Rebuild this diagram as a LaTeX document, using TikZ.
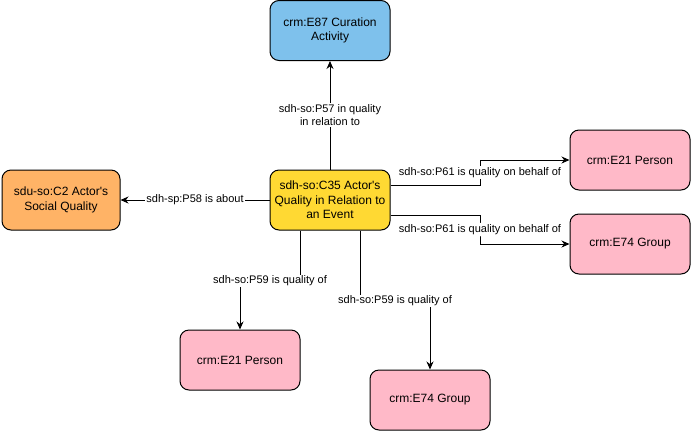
\documentclass[tikz,border=0pt]{standalone}
\usepackage{fontspec}
\setmainfont{Liberation Sans}
\usetikzlibrary{arrows.meta,calc}
\definecolor{cblue}{RGB}{126,193,236}
\definecolor{corange}{RGB}{255,179,102}
\definecolor{cyellow}{RGB}{255,217,51}
\definecolor{cpink}{RGB}{255,185,200}
\begin{document}
\begin{tikzpicture}[x=1pt,y=-1pt,
 box/.style={draw=black, rounded corners=9pt, minimum width=120pt, minimum height=60pt, align=center, font=\fontsize{12}{14.5}\selectfont, inner sep=2pt, line width=1pt},
 lbl/.style={fill=white, font=\fontsize{11}{13}\selectfont, align=center, inner sep=1pt},
 arr/.style={line width=1pt, -{Stealth[length=8pt,width=7pt]}}]
\useasboundingbox (0,0) rectangle (691,432);
\node[box, fill=cblue] (e87) at (330,30.5) {crm:E87 Curation\\Activity};
\node[box, fill=corange, minimum width=118pt] (soc) at (61,200) {sdu-so:C2 Actor\textquotesingle s\\Social Quality};
\node[box, fill=cyellow] (c35) at (330,200) {sdh-so:C35 Actor\textquotesingle s\\Quality in Relation to\\an Event};
\node[box, fill=cpink] (p1) at (630,160) {crm:E21 Person};
\node[box, fill=cpink] (g1) at (630,244) {crm:E74 Group};
\node[box, fill=cpink] (p2) at (240,360) {crm:E21 Person};
\node[box, fill=cpink] (g2) at (430,400) {crm:E74 Group};
\coordinate (m0) at (330,115);
\coordinate (ml) at (195,200);
\coordinate (m1) at (480,172.5);
\coordinate (m2) at (480,229.5);
\coordinate (m3) at (270,281);
\coordinate (m4) at (395,301);
\draw[arr] (c35.north) -- (e87.south);
\draw[arr] (c35.west) -- (soc.east);
\draw[arr] ([yshift=15pt]c35.east) -| (m1) |- (p1.west);
\draw[arr] ([yshift=-15pt]c35.east) -| (m2) |- (g1.west);
\draw[arr] ([xshift=-30pt]c35.south) |- (m3) -| (p2.north);
\draw[arr] ([xshift=30pt]c35.south) |- (m4) -| (g2.north);
\node[lbl] (l0) at (m0) {sdh-so:P57 in quality\\in relation to};
\node[lbl] (ll) at (ml) {sdh-sp:P58 is about};
\node[lbl] (l1) at (m1) {sdh-so:P61 is quality on behalf of};
\node[lbl] (l2) at (m2) {sdh-so:P61 is quality on behalf of};
\node[lbl] (l3) at (m3) {sdh-so:P59 is quality of};
\node[lbl] (l4) at (m4) {sdh-so:P59 is quality of};
\end{tikzpicture}
\end{document}
